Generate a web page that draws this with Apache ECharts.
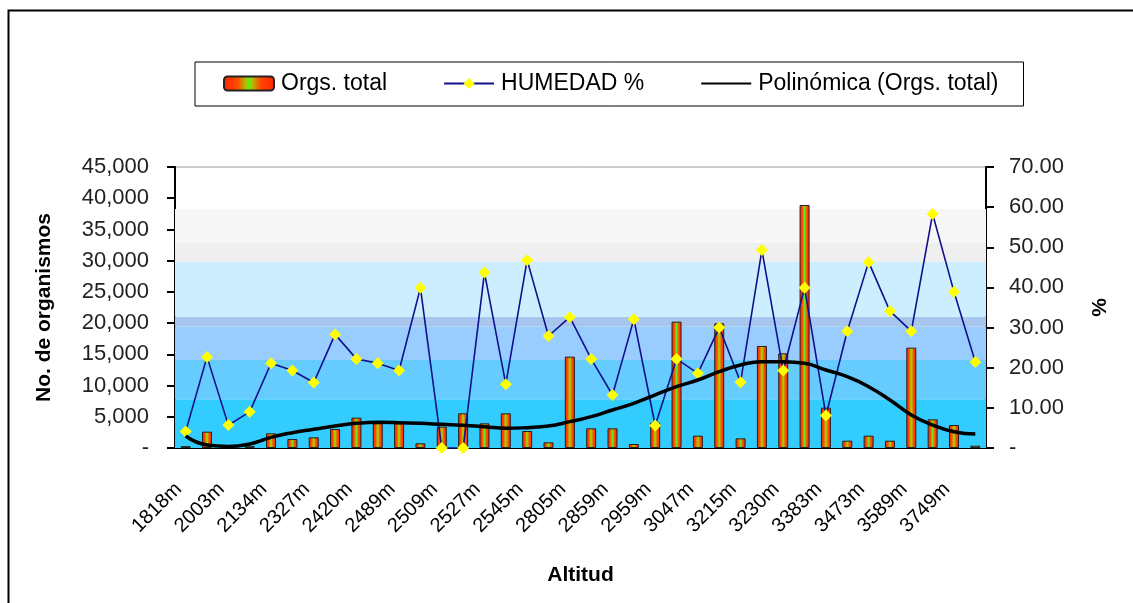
<!DOCTYPE html>
<html>
<head>
<meta charset="utf-8">
<script src="https://cdn.jsdelivr.net/npm/echarts@6/dist/echarts.min.js"></script>
<style>
html,body{margin:0;padding:0;background:#fff;}
#c{width:1133px;height:603px;}
</style>
</head>
<body>
<div id="c"></div>
<script>
// ---- data ----
const categories = ['1818m','1910m','2003m','2070m','2134m','2250m','2327m','2380m','2420m','2450m',
  '2489m','2500m','2509m','2518m','2527m','2536m','2545m','2700m','2805m','2830m',
  '2859m','2900m','2959m','3000m','3047m','3120m','3215m','3222m','3230m','3300m',
  '3383m','3420m','3473m','3530m','3589m','3650m','3749m','3800m'];
const orgsTotal = [300, 2610, 250, 300, 2350, 1440, 1710, 3040, 4860, 3950,
  3950, 750, 3420, 5550, 3950, 5550, 2720, 910, 14630, 3150,
  3150, 640, 4060, 20230, 1970, 19970, 1550, 16340, 15160, 38920,
  6460, 1170, 1970, 1170, 16070, 4590, 3680, 370];
const humedad = [4.1, 22.7, 5.7, 9.0, 21.1, 19.3, 16.3, 28.3, 22.2, 21.1,
  19.3, 39.9, 0, 0, 43.7, 15.9, 46.8, 27.9, 32.6, 22.2,
  13.2, 32.1, 5.6, 22.2, 18.6, 30.0, 16.4, 49.3, 19.3, 39.9,
  8.1, 29.1, 46.3, 34.1, 29.1, 58.3, 38.9, 21.4];
const polinomica = [1920, 480, 250, 650, 1710, 2450, 2990, 3520, 3950, 4110,
  4060, 3950, 3790, 3630, 3420, 3150, 3260, 3520, 4220, 5020,
  6090, 7160, 8490, 9820, 10890, 12220, 13290, 13820, 13820, 13560,
  12490, 11420, 9820, 7690, 5290, 3680, 2610, 2240];
const leftTicks = {min: 0, max: 45000, step: 5000};
const rightTicks = {min: 0, max: 70, step: 10};
const seriesNames = ['Orgs. total', 'HUMEDAD %', 'Polinómica (Orgs. total)'];
const axisNames = {left: 'No. de organismos', right: '%', x: 'Altitud'};

const FONT = 'Liberation Sans';
const chart = echarts.init(document.getElementById('c'), null, {renderer: 'canvas'});

const barGradient = new echarts.graphic.LinearGradient(0, 0, 1, 0, [
  {offset: 0, color: '#ff2200'},
  {offset: 0.28, color: '#ff4a00'},
  {offset: 0.45, color: '#a8c800'},
  {offset: 0.5, color: '#55ee22'},
  {offset: 0.55, color: '#a8c800'},
  {offset: 0.72, color: '#ff4a00'},
  {offset: 1, color: '#ff2200'}
]);

const bands = [
  [0, 7800, '#33ccff'],
  [7800, 14090, '#66ccff'],
  [14090, 19430, '#99ccff'],
  [19430, 21030, '#a6c6ee'],
  [21030, 29790, '#cceeff'],
  [29790, 32830, '#efefef'],
  [32830, 38280, '#f7f7f7']
];

const option = {
  animation: false,
  backgroundColor: '#fff',
  graphic: [{
    type: 'rect', left: 6, top: 8, silent: true, z: 100,
    shape: {width: 1160, height: 640},
    style: {fill: 'none', stroke: '#000', lineWidth: 2}
  }],
  legend: {
    data: seriesNames,
    left: 195, top: 62,
    padding: [10, 25, 11, 28],
    itemGap: 56,
    itemWidth: 50, itemHeight: 14,
    borderColor: '#000', borderWidth: 1,
    backgroundColor: '#fff',
    textStyle: {fontFamily: FONT, fontSize: 23, color: '#000', padding: [0, 0, 0, 2]}
  },
  grid: {
    left: 175, right: 147, top: 167, bottom: 155,
    show: true, borderColor: '#999', borderWidth: 1, backgroundColor: '#fff'
  },
  xAxis: {
    type: 'category', data: categories, boundaryGap: true,
    name: axisNames.x, nameLocation: 'middle', nameGap: 117,
    nameTextStyle: {fontFamily: FONT, fontSize: 21, fontWeight: 'bold', color: '#000'},
    axisLine: {lineStyle: {color: '#000', width: 2}},
    axisTick: {interval: 0, length: 7, lineStyle: {color: '#000', width: 2}},
    axisLabel: {
      interval: 1, rotate: 45, margin: 31,
      fontFamily: FONT, fontSize: 20, color: '#000',
      padding: [0, 10, 0, 0]
    }
  },
  yAxis: [{
    type: 'value', min: leftTicks.min, max: leftTicks.max, interval: leftTicks.step,
    name: axisNames.left, nameLocation: 'middle', nameGap: 120, nameRotate: 90,
    nameTextStyle: {fontFamily: FONT, fontSize: 21, fontWeight: 'bold', color: '#000'},
    axisLine: {show: true, lineStyle: {color: '#000', width: 2}},
    axisTick: {show: true, length: 8, lineStyle: {color: '#000', width: 2}},
    splitLine: {show: false},
    axisLabel: {
      margin: 26, fontFamily: FONT, fontSize: 22, color: '#222',
      formatter: v => v === 0 ? '-' : v.toLocaleString('en-US')
    }
  }, {
    type: 'value', min: rightTicks.min, max: rightTicks.max, interval: rightTicks.step,
    position: 'right',
    name: axisNames.right, nameLocation: 'middle', nameGap: 104, nameRotate: 90,
    nameTextStyle: {fontFamily: FONT, fontSize: 21, fontWeight: 'bold', color: '#000'},
    axisLine: {show: true, lineStyle: {color: '#000', width: 2}},
    axisTick: {show: true, length: 8, lineStyle: {color: '#000', width: 2}},
    splitLine: {show: false},
    axisLabel: {
      margin: 23, fontFamily: FONT, fontSize: 22, color: '#222',
      formatter: v => v === 0 ? '-' : v.toFixed(2)
    }
  }],
  series: [{
    name: 'bands', type: 'line', data: [], z: 0, silent: true,
    yAxisIndex: 0,
    markArea: {
      silent: true,
      data: bands.map(b => [{yAxis: b[0], itemStyle: {color: b[2], opacity: 1}}, {yAxis: b[1]}])
    }
  }, {
    name: seriesNames[0], type: 'bar', data: orgsTotal, yAxisIndex: 0, z: 2,
    barWidth: 10,
    itemStyle: {color: barGradient, borderColor: '#222', borderWidth: 1}
  }, {
    name: seriesNames[1], type: 'line', data: humedad, yAxisIndex: 1, z: 3,
    symbol: 'diamond', symbolSize: 12,
    lineStyle: {color: '#10108a', width: 1.6},
    itemStyle: {color: '#ffff00', borderWidth: 0}
  }, {
    name: seriesNames[2], type: 'line', data: polinomica, yAxisIndex: 0, z: 4,
    symbol: 'none', smooth: true,
    lineStyle: {color: '#000', width: 3.5},
    itemStyle: {color: '#000', opacity: 0}
  }]
};
chart.setOption(option);
</script>
</body>
</html>
